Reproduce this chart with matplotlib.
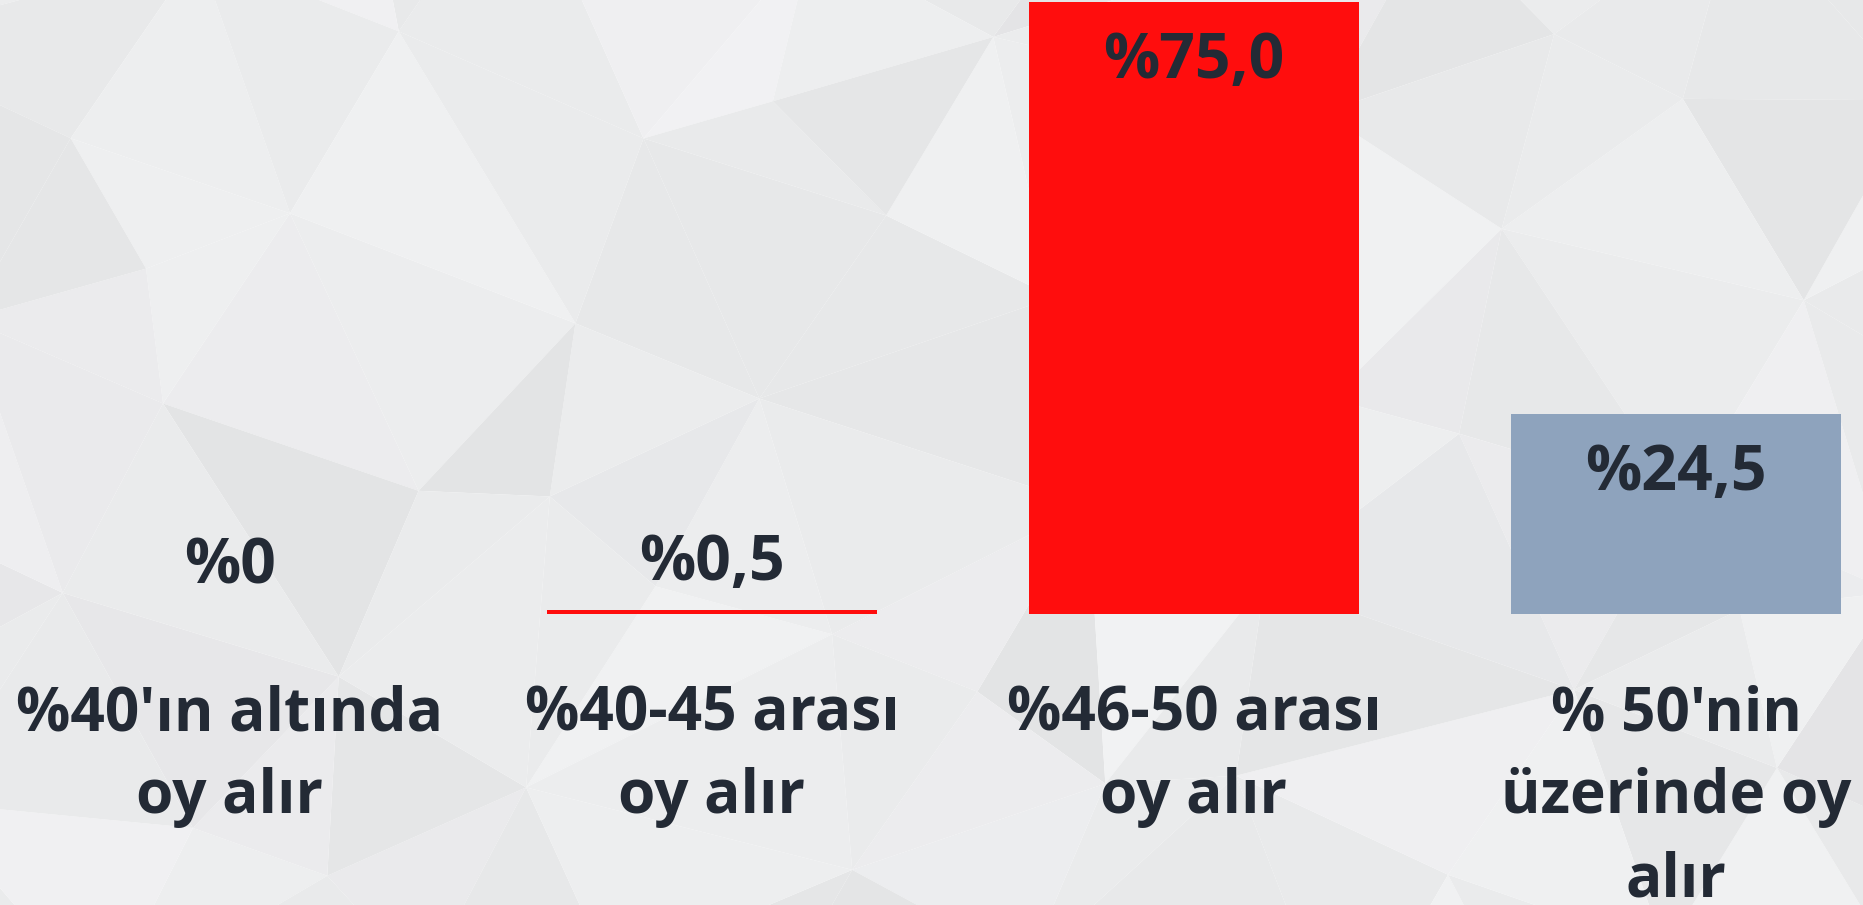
import numpy as np
import matplotlib
import matplotlib.pyplot as plt
import matplotlib.tri as mtri
from matplotlib.collections import PolyCollection

categories = ["%40'ın altında\noy alır", "%40-45 arası\noy alır",
              "%46-50 arası\noy alır", "% 50'nin\nüzerinde oy\nalır"]
values = [0.0, 0.5, 75.0, 24.5]
value_labels = ["%0", "%0,5", "%75,0", "%24,5"]
bar_colors = ["#ff0d0d", "#ff0d0d", "#ff0d0d", "#8ea3bd"]

text_color = "#232a35"
W, H = 1863, 905

fig = plt.figure(figsize=(W / 100, H / 100), dpi=100)

# low-poly grey background (decoration only)
bg = fig.add_axes([0, 0, 1, 1])
bg.set_xlim(0, W)
bg.set_ylim(0, H)
bg.axis("off")
gx, gy = np.meshgrid(np.linspace(-100, W + 100, 10), np.linspace(-100, H + 100, 7))
gx = gx + 70 * np.sin(gy * 0.013 + gx * 0.007)
gy = gy + 55 * np.cos(gx * 0.011 - gy * 0.005)
tri = mtri.Triangulation(gx.ravel(), gy.ravel())
polys = [np.column_stack([tri.x[t], tri.y[t]]) for t in tri.triangles]
shade = [0.918 + 0.028 * np.sin(i * 1.7) * np.cos(i * 0.9) for i in range(len(polys))]
bg.add_collection(PolyCollection(polys, facecolors=[(s, s + 0.003, s + 0.008) for s in shade],
                                 edgecolors="none"))

ax = fig.add_axes([0, 0, 1, 1])
ax.patch.set_alpha(0)
x = np.arange(len(categories))
ax.bar(x, values, width=0.685, color=bar_colors)
ax.set_xlim(-230 / 482, (W - 230) / 482)
ax.set_ylim(-291 / 8.16, 614 / 8.16)
ax.axis("off")

for xi, v, lab in zip(x, values, value_labels):
    if v > 10:
        ypos = v - 9.3
    else:
        ypos = v + 3.7
    ax.text(xi, ypos, lab, ha="center", va="baseline", fontsize=45,
            fontweight="bold", family="Open Sans", color=text_color)

for xi, cat in zip(x, categories):
    ax.text(xi, -8.6, cat, ha="center", va="top", fontsize=43.5, linespacing=1.48,
            fontweight="bold", family="Open Sans", color=text_color)

fig.savefig("out.png", dpi=100)
